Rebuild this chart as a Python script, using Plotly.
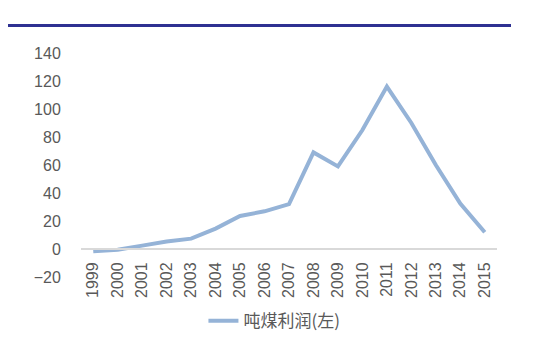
import plotly.graph_objects as go

years = [str(y) for y in range(1999, 2016)]
profit = [-1.6, -0.5, 2.4, 5.4, 7.4, 14.6, 23.6, 26.9, 32.0, 69.0, 59.0, 85.0, 116.0, 90.0, 60.0, 32.5, 12.0]
series_name = "吨煤利润(左)"
y_ticks = [-20, 0, 20, 40, 60, 80, 100, 120, 140]

y_min, y_max = -20, 140

fig = go.Figure()
fig.add_trace(go.Scatter(
    x=years, y=profit, mode="lines", name=series_name,
    line=dict(color="#95B3D7", width=4),
))

font_family = "Liberation Sans, Arial, sans-serif"
top, bottom = 53, 281
ph = bottom - top
fig.update_layout(
    width=543, height=351,
    margin=dict(l=81, r=46, t=top, b=351 - bottom),
    paper_bgcolor="white", plot_bgcolor="white",
    font=dict(family=font_family, size=16, color="#595959"),
    showlegend=True,
    legend=dict(
        orientation="h", x=0.465, xanchor="center", y=-(326 - bottom) / ph, yanchor="middle",
        font=dict(family="Noto Sans CJK SC, " + font_family, size=17, color="#595959"),
        bgcolor="rgba(0,0,0,0)",
    ),
    xaxis=dict(
        type="category", range=[-0.5, 16.5],
        anchor="free", position=(0 - y_min) / (y_max - y_min),
        showline=True, linecolor="#D9D9D9", linewidth=2,
        showgrid=False, zeroline=False,
        tickangle=-90, ticks="outside", ticklen=6, tickcolor="rgba(0,0,0,0)",
        tickfont=dict(size=16, color="#595959"),
    ),
    yaxis=dict(
        range=[y_min, y_max], tickvals=y_ticks,
        showgrid=False, zeroline=False, showline=False,
        ticks="outside", ticklen=16, tickcolor="rgba(0,0,0,0)",
        tickfont=dict(size=16, color="#595959"),
    ),
    shapes=[dict(
        type="line", xref="paper", yref="paper",
        x0=-73 / 416, x1=430 / 416, y0=(bottom - 25) / ph, y1=(bottom - 25) / ph,
        line=dict(color="#2E3192", width=3),
    )],
)

fig.write_html("out.html")
